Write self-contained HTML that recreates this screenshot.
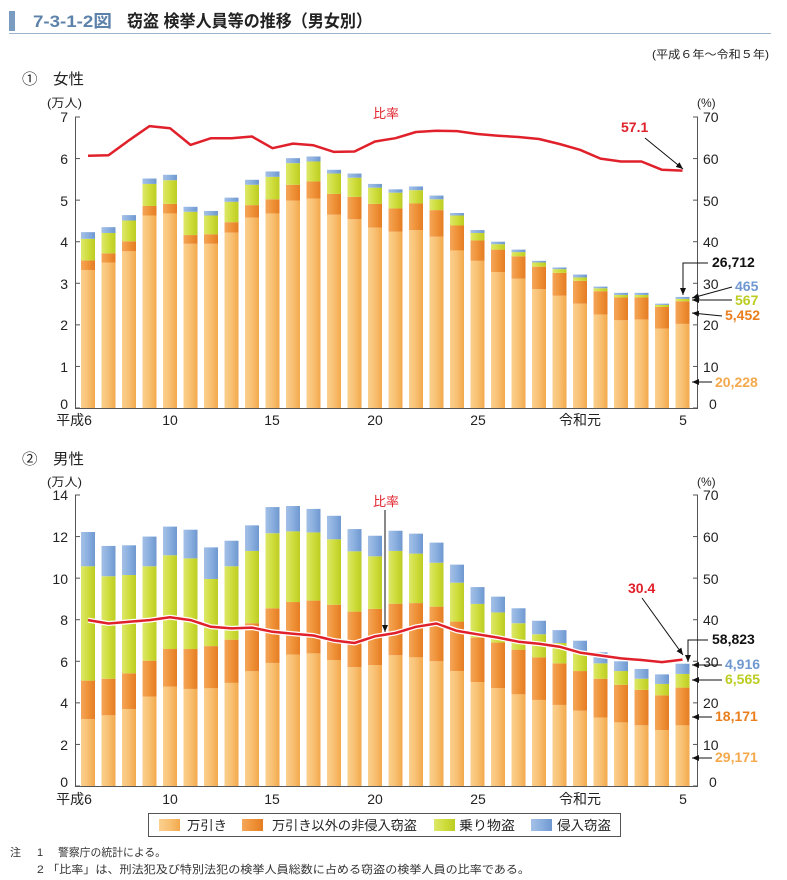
<!DOCTYPE html>
<html><head><meta charset="utf-8">
<style>
body{margin:0;background:#fff;width:787px;height:880px;overflow:hidden;font-family:"Liberation Sans","Noto Sans CJK JP",sans-serif;}
svg{display:block}
text{font-family:"Liberation Sans","Noto Sans CJK JP",sans-serif;}
</style></head><body>
<svg id="s" width="787" height="880" viewBox="0 0 787 880" xmlns="http://www.w3.org/2000/svg">
<defs>
<linearGradient id="g1" x1="0" x2="1"><stop offset="0" stop-color="#fbd08e"/><stop offset="0.5" stop-color="#f8c073"/><stop offset="1" stop-color="#f3a94c"/></linearGradient>
<linearGradient id="g2" x1="0" x2="1"><stop offset="0" stop-color="#f4a65a"/><stop offset="0.5" stop-color="#ef9238"/><stop offset="1" stop-color="#e57d24"/></linearGradient>
<linearGradient id="g3" x1="0" x2="1"><stop offset="0" stop-color="#dde86a"/><stop offset="0.5" stop-color="#cfdd3c"/><stop offset="1" stop-color="#bccd22"/></linearGradient>
<linearGradient id="g4" x1="0" x2="1"><stop offset="0" stop-color="#a4c0e6"/><stop offset="0.5" stop-color="#8aafdf"/><stop offset="1" stop-color="#6f98d0"/></linearGradient>
<marker id="ar" markerWidth="8" markerHeight="8" refX="7" refY="4" orient="auto" markerUnits="userSpaceOnUse"><path d="M0,1 L7,4 L0,7 Z" fill="#111"/></marker>
</defs>
<!-- title -->
<rect x="9" y="11" width="6" height="20" fill="#7a9cc0"/>
<text x="33" y="27" font-size="17" font-weight="bold" fill="#5d82aa" textLength="79" lengthAdjust="spacingAndGlyphs">7-3-1-2図</text>
<text x="127" y="27" font-size="17" font-weight="bold" fill="#222" textLength="245" lengthAdjust="spacingAndGlyphs">窃盗 検挙人員等の推移（男女別）</text>
<line x1="9" y1="33.5" x2="771" y2="33.5" stroke="#9db4cc" stroke-width="1"/>
<text x="652" y="58" font-size="11" fill="#222" textLength="117" lengthAdjust="spacingAndGlyphs">(平成６年～令和５年)</text>

<text x="22" y="84" font-size="15" fill="#222" textLength="62" lengthAdjust="spacingAndGlyphs">①　女性</text>
<text x="47" y="107" font-size="12" fill="#222" textLength="35" lengthAdjust="spacingAndGlyphs">(万人)</text>
<text x="697" y="107" font-size="12" fill="#222">(%)</text>
<text x="22" y="464" font-size="15" fill="#222" textLength="62" lengthAdjust="spacingAndGlyphs">②　男性</text>
<text x="47" y="486" font-size="12" fill="#222" textLength="35" lengthAdjust="spacingAndGlyphs">(万人)</text>
<text x="697" y="486" font-size="12" fill="#222">(%)</text>

<g id="c1"></g><g id="c2"></g>

<!-- chart1 axis labels -->
<g font-size="14" fill="#222" text-anchor="end">
<text x="68" y="122">7</text><text x="68" y="164">6</text><text x="68" y="206">5</text><text x="68" y="247">4</text><text x="68" y="289">3</text><text x="68" y="330">2</text><text x="68" y="372">1</text><text x="68" y="409">0</text>
</g>
<g font-size="14" fill="#222">
<text x="703" y="122">70</text><text x="703" y="164">60</text><text x="703" y="206">50</text><text x="703" y="247">40</text><text x="703" y="289">30</text><text x="703" y="330">20</text><text x="703" y="372">10</text><text x="709" y="409">0</text>
</g>
<g font-size="14" fill="#222" text-anchor="middle">
<text x="74" y="425">平成6</text><text x="170" y="425">10</text><text x="272" y="425">15</text><text x="375" y="425">20</text><text x="478" y="425">25</text><text x="580" y="425">令和元</text><text x="683" y="425">5</text>
</g>
<text x="373" y="118" font-size="13" fill="#e0202a">比率</text>
<text x="621" y="132" font-size="14" font-weight="bold" fill="#e0202a">57.1</text>
<line x1="645" y1="138" x2="683" y2="169" stroke="#111" stroke-width="1" marker-end="url(#ar)"/>
<text x="712" y="267" font-size="14" font-weight="bold" fill="#111">26,712</text>
<polyline points="708,263 683,263 683,295" fill="none" stroke="#111" stroke-width="1" marker-end="url(#ar)"/>
<text x="735" y="291" font-size="14" font-weight="bold" fill="#6f98d0">465</text>
<line x1="732" y1="287" x2="692" y2="298" stroke="#111" stroke-width="1" marker-end="url(#ar)"/>
<text x="735" y="305" font-size="14" font-weight="bold" fill="#bccd22">567</text>
<line x1="732" y1="300" x2="692" y2="300" stroke="#111" stroke-width="1" marker-end="url(#ar)"/>
<text x="725" y="320" font-size="14" font-weight="bold" fill="#ea7e1c">5,452</text>
<line x1="722" y1="316" x2="692" y2="313" stroke="#111" stroke-width="1" marker-end="url(#ar)"/>
<text x="715" y="387" font-size="14" font-weight="bold" fill="#f3a94c">20,228</text>
<line x1="712" y1="382" x2="692" y2="382" stroke="#111" stroke-width="1" marker-end="url(#ar)"/>

<!-- chart2 axis labels -->
<g font-size="14" fill="#222" text-anchor="end">
<text x="68" y="500">14</text><text x="68" y="542">12</text><text x="68" y="584">10</text><text x="68" y="625">8</text><text x="68" y="667">6</text><text x="68" y="708">4</text><text x="68" y="750">2</text><text x="68" y="787">0</text>
</g>
<g font-size="14" fill="#222">
<text x="703" y="500">70</text><text x="703" y="542">60</text><text x="703" y="584">50</text><text x="703" y="625">40</text><text x="703" y="667">30</text><text x="703" y="708">20</text><text x="703" y="750">10</text><text x="709" y="787">0</text>
</g>
<g font-size="14" fill="#222" text-anchor="middle">
<text x="74" y="804">平成6</text><text x="170" y="804">10</text><text x="272" y="804">15</text><text x="375" y="804">20</text><text x="478" y="804">25</text><text x="580" y="804">令和元</text><text x="683" y="804">5</text>
</g>
<text x="373" y="506" font-size="13" fill="#e0202a">比率</text>
<line x1="385" y1="510" x2="385" y2="632" stroke="#111" stroke-width="1" marker-end="url(#ar)"/>
<text x="628" y="593" font-size="14" font-weight="bold" fill="#e0202a">30.4</text>
<line x1="642" y1="598" x2="683" y2="655" stroke="#111" stroke-width="1" marker-end="url(#ar)"/>
<text x="712" y="644" font-size="14" font-weight="bold" fill="#111">58,823</text>
<polyline points="708,640 688,640 688,662" fill="none" stroke="#111" stroke-width="1" marker-end="url(#ar)"/>
<text x="725" y="669" font-size="14" font-weight="bold" fill="#6f98d0">4,916</text>
<line x1="722" y1="665" x2="692" y2="665" stroke="#111" stroke-width="1" marker-end="url(#ar)"/>
<text x="725" y="684" font-size="14" font-weight="bold" fill="#bccd22">6,565</text>
<line x1="722" y1="680" x2="692" y2="680" stroke="#111" stroke-width="1" marker-end="url(#ar)"/>
<text x="715" y="721" font-size="14" font-weight="bold" fill="#ea7e1c">18,171</text>
<line x1="712" y1="717" x2="692" y2="717" stroke="#111" stroke-width="1" marker-end="url(#ar)"/>
<text x="715" y="762" font-size="14" font-weight="bold" fill="#f3a94c">29,171</text>
<line x1="712" y1="758" x2="692" y2="758" stroke="#111" stroke-width="1" marker-end="url(#ar)"/>

<!-- legend -->
<rect x="148.5" y="813.5" width="472" height="23" fill="#fff" stroke="#555"/>
<rect x="159" y="819" width="21" height="12" fill="url(#g1)"/><text x="187" y="830" font-size="13" fill="#222" textLength="40" lengthAdjust="spacingAndGlyphs">万引き</text>
<rect x="242" y="819" width="21" height="12" fill="url(#g2)"/><text x="272" y="830" font-size="13" fill="#222" textLength="145" lengthAdjust="spacingAndGlyphs">万引き以外の非侵入窃盗</text>
<rect x="434" y="819" width="21" height="12" fill="url(#g3)"/><text x="459" y="830" font-size="13" fill="#222" textLength="56" lengthAdjust="spacingAndGlyphs">乗り物盗</text>
<rect x="531" y="819" width="21" height="12" fill="url(#g4)"/><text x="557" y="830" font-size="13" fill="#222" textLength="54" lengthAdjust="spacingAndGlyphs">侵入窃盗</text>

<text x="10" y="856" font-size="11" fill="#333">注</text>
<text x="37" y="856" font-size="11" fill="#333">1</text>
<text x="58" y="856" font-size="11" fill="#333" textLength="108" lengthAdjust="spacingAndGlyphs">警察庁の統計による。</text>
<text x="37" y="873" font-size="11" fill="#333" textLength="493" lengthAdjust="spacingAndGlyphs">2 「比率」は、刑法犯及び特別法犯の検挙人員総数に占める窃盗の検挙人員の比率である。</text>
</svg>
<script>
var F=[[3.32,.23,.52,.16],[3.50,.22,.49,.14],[3.77,.24,.50,.13],[4.63,.23,.53,.13],[4.68,.23,.57,.13],[3.95,.21,.56,.12],[3.95,.23,.45,.11],[4.22,.25,.49,.10],[4.58,.30,.49,.12],[4.68,.34,.54,.13],[4.99,.38,.52,.12],[5.04,.41,.48,.12],[4.65,.50,.49,.09],[4.54,.54,.46,.10],[4.34,.57,.39,.09],[4.24,.56,.38,.08],[4.28,.64,.32,.09],[4.12,.64,.26,.09],[3.79,.60,.24,.06],[3.54,.49,.18,.07],[3.27,.54,.13,.06],[3.11,.54,.10,.06],[2.86,.54,.10,.04],[2.70,.55,.09,.04],[2.51,.55,.08,.07],[2.25,.56,.07,.04],[2.11,.55,.06,.05],[2.13,.53,.06,.05],[1.91,.52,.05,.03],[2.023,.545,.057,.047]];
var FR=[60.7,60.8,64.4,67.8,67.3,63.3,64.9,64.9,65.3,62.5,63.6,63.2,61.6,61.7,64.1,64.9,66.4,66.7,66.6,65.9,65.5,65.2,64.7,63.5,62.1,60.0,59.3,59.3,57.3,57.1];
var M=[[3.22,1.85,5.50,1.65],[3.40,1.76,4.93,1.46],[3.70,1.72,4.73,1.43],[4.30,1.73,4.54,1.43],[4.78,1.81,4.51,1.38],[4.67,1.92,4.36,1.38],[4.70,2.03,3.23,1.52],[4.96,2.08,3.53,1.23],[5.52,2.31,3.48,1.23],[5.92,2.63,3.61,1.26],[6.32,2.53,3.40,1.22],[6.38,2.54,3.28,1.13],[6.06,2.66,3.15,1.13],[5.72,2.67,2.90,1.07],[5.82,2.70,2.53,0.99],[6.29,2.48,2.54,0.97],[6.19,2.61,2.38,0.96],[6.00,2.63,2.11,0.97],[5.53,2.38,1.87,0.87],[5.00,2.14,1.62,0.81],[4.71,2.19,1.45,0.76],[4.41,2.15,1.27,0.72],[4.14,2.05,1.11,0.65],[3.90,2.00,0.98,0.62],[3.62,1.91,0.88,0.58],[3.29,1.87,0.74,0.53],[3.06,1.81,0.66,0.47],[2.92,1.71,0.53,0.47],[2.69,1.67,0.55,0.46],[2.917,1.817,0.657,0.492]];
var MR=[39.9,39.1,39.5,39.9,40.6,39.9,38.3,37.9,38.1,37.1,36.6,36.2,35.0,34.4,36.0,36.8,38.3,39.1,37.3,36.5,35.7,34.7,34.2,33.5,32.1,31.4,30.7,30.3,29.8,30.4];
var NS="http://www.w3.org/2000/svg";
function el(p,t,a){var e=document.createElementNS(NS,t);for(var k in a)e.setAttribute(k,a[k]);p.appendChild(e);return e;}
function chart(g,D,R,zero,top,max,ticks,outline){
 var u=(zero-top)/max, pu=(zero-top)/70;
 el(g,"line",{x1:75.5,y1:top,x2:75.5,y2:zero,stroke:"#555"});
 el(g,"line",{x1:697.5,y1:top,x2:697.5,y2:zero,stroke:"#555"});
 el(g,"line",{x1:75,y1:zero+.5,x2:698,y2:zero+.5,stroke:"#555"});
 for(var i=0;i<=7;i++){var y=zero-i*(zero-top)/7;el(g,"line",{x1:75,y1:y,x2:80,y2:y,stroke:"#555"});el(g,"line",{x1:693,y1:y,x2:698,y2:y,stroke:"#555"});}
 var fills=["url(#g1)","url(#g2)","url(#g3)","url(#g4)"];
 for(var j=0;j<30;j++){var cx=88+j*20.5,y=zero;for(var k=0;k<4;k++){var h=D[j][k]*u;el(g,"rect",{x:cx-7,y:y-h,width:14,height:h,fill:fills[k]});y-=h;}}
 var pts=R.map(function(v,j){return (88+j*20.5)+","+(zero-v*pu).toFixed(1);}).join(" ");
 if(outline)el(g,"polyline",{points:pts,fill:"none",stroke:"#fff","stroke-width":5,"stroke-linejoin":"round"});
 el(g,"polyline",{points:pts,fill:"none",stroke:"#e0202a","stroke-width":2.5,"stroke-linejoin":"round"});
}
chart(document.getElementById("c1"),F,FR,408,117,7,0,false);
chart(document.getElementById("c2"),M,MR,786,495,14,0,true);
</script>
</body></html>
